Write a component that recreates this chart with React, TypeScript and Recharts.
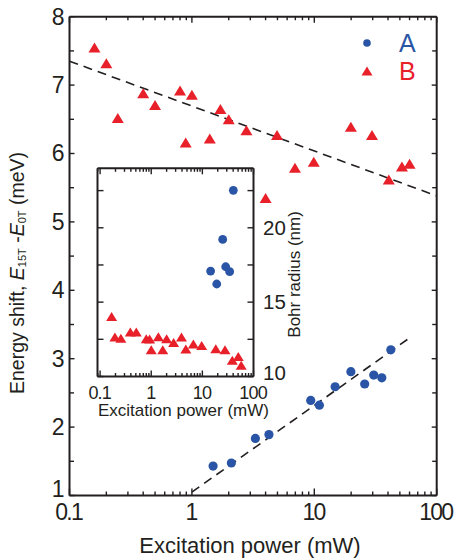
// App.tsx
// Energy shift vs excitation power (log x), with Bohr radius inset.

import * as React from "react";
import { ComposedChart, Scatter, Line, XAxis, YAxis, Legend } from "recharts";

const W = 455;
const H = 558;
const INK = "#231f20";
const BLUE = "#2a55a6";
const RED = "#e8202a";
const FONT = "'Liberation Sans', Arial, Helvetica, sans-serif";

// main panel: energy shift (meV) vs excitation power (mW)
const powerA = [1.49, 2.1, 3.3, 4.26, 9.35, 11.0, 14.8, 19.9, 25.8, 30.6, 35.6, 42.2];
const shiftA = [1.43, 1.475, 1.835, 1.89, 2.39, 2.32, 2.59, 2.81, 2.63, 2.76, 2.72, 3.13];
const powerB = [0.16, 0.2, 0.248, 0.4, 0.5, 0.8, 0.89, 1.0, 1.4, 1.71, 2.0, 2.79, 4.0, 4.96, 6.95, 9.9, 19.9, 29.6, 40.6, 52, 60];
const shiftB = [7.55, 7.32, 6.52, 6.88, 6.71, 6.92, 6.16, 6.86, 6.22, 6.65, 6.5, 6.34, 5.35, 6.27, 5.79, 5.88, 6.39, 6.27, 5.62, 5.81, 5.85];

// dashed fit lines (end points)
const fitAPower = [1, 63];
const fitAShift = [1.05, 3.33];
const fitBPower = [0.1, 100];
const fitBShift = [7.35, 5.38];

// inset: Bohr radius (nm) vs excitation power (mW)
const insetPowerA = [14.5, 19.1, 25, 28.6, 34.2, 40.3];
const radiusA = [17.09, 16.22, 19.22, 17.38, 17.05, 22.52];
const insetPowerB = [0.168, 0.195, 0.255, 0.39, 0.51, 0.8, 0.93, 1.0, 1.38, 1.68, 2.0, 2.74, 3.9, 4.75, 6.67, 9.7, 18.3, 27.7, 38.5, 50.4, 57.5];
const radiusB = [14.03, 12.65, 12.58, 12.99, 13.0, 12.54, 12.52, 11.8, 12.67, 11.8, 12.54, 12.29, 12.65, 11.85, 12.18, 12.09, 11.87, 11.8, 11.09, 11.35, 10.75];

// ticks
const xMajor = [0.1, 1, 10, 100];
const minorSteps = [2, 3, 4, 5, 6, 7, 8, 9];
const xTicks = xMajor
  .slice(0, -1)
  .flatMap((d) => [d, ...minorSteps.map((s) => +(d * s).toPrecision(3))])
  .concat([100]);
const insetXTicks = [0.09, ...xTicks];
const yMajor = [1, 2, 3, 4, 5, 6, 7, 8];
const yTicks = [1, 1.5, 2, 2.5, 3, 3.5, 4, 4.5, 5, 5.5, 6, 6.5, 7, 7.5, 8];
const insetYMajor = [10, 15, 20];
const insetYTicks = [10, 12.5, 15, 17.5, 20, 22.5];

const zip = (xs: number[], ys: number[]) => xs.map((x, i) => ({ x, y: ys[i] }));

const dataA = zip(powerA, shiftA);
const dataB = zip(powerB, shiftB);
const fitA = zip(fitAPower, fitAShift);
const fitB = zip(fitBPower, fitBShift);
const insetA = zip(insetPowerA, radiusA);
const insetB = zip(insetPowerB, radiusB);

const fmt = (v: number) => String(v);

type Side = "bottom" | "top" | "left" | "right";
interface ILabelOpts {
  size: number;
  gap: number;
  spacing?: number;
  lowShift?: number; // nudge for the lowest label so it clears the x labels
}

// custom tick: inward tick mark (longer for majors) + optional label
function makeTick(side: Side, major: number[], majorLen: number, minorLen: number, label?: ILabelOpts) {
  return (props: any) => {
    const { x, y, payload } = props;
    const v = payload.value;
    const isMajor = major.some((m) => Math.abs(m - v) < 1e-9);
    const len = isMajor ? majorLen : minorLen;
    const shift = label && v === major[0] ? label.lowShift || 0 : 0;
    let line: any;
    let text: any = null;
    if (side === "bottom") {
      line = <line x1={x} x2={x} y1={y} y2={y - len} />;
      if (label && isMajor)
        text = (
          <text x={x + (label.spacing || 0) / 2} y={y + label.gap} textAnchor="middle">
            {fmt(v)}
          </text>
        );
    } else if (side === "top") {
      line = <line x1={x} x2={x} y1={y} y2={y + len} />;
    } else if (side === "left") {
      line = <line x1={x} x2={x + len} y1={y} y2={y} />;
      if (label && isMajor)
        text = (
          <text x={x - label.gap} y={y + label.size * 0.34 + shift} textAnchor="end">
            {fmt(v)}
          </text>
        );
    } else {
      line = <line x1={x} x2={x - len} y1={y} y2={y} />;
      if (label && isMajor)
        text = (
          <text x={x + label.gap} y={y + label.size * 0.35 + shift} textAnchor="start">
            {fmt(v)}
          </text>
        );
    }
    return (
      <g>
        <g stroke={INK} strokeWidth={1.4}>{line}</g>
        {text && (
          <g fill={INK} fontSize={label!.size} fontFamily={FONT} letterSpacing={label!.spacing || 0}>
            {text}
          </g>
        )}
      </g>
    );
  };
}

const circleShape = (fill: string, r: number) => (p: any) =>
  <circle cx={p.cx} cy={p.cy} r={r} fill={fill} />;

const triangleShape = (fill: string, w: number, h: number) => (p: any) =>
  (
    <polygon
      points={`${p.cx},${p.cy - h / 2} ${p.cx - w / 2},${p.cy + h / 2} ${p.cx + w / 2},${p.cy + h / 2}`}
      fill={fill}
    />
  );

const frame = { stroke: INK, strokeWidth: 2 };

const LegendBox = (props: any) => {
  const items = (props.payload || []).filter((e: any) => e.type !== "none");
  return (
    <svg width={80} height={60}>
      {items.map((e: any, i: number) => {
        const cy = 15 + i * 28;
        return (
          <g key={e.value}>
            {e.type === "circle" ? (
              <circle cx={9} cy={cy} r={3.8} fill={e.color} />
            ) : (
              <polygon points={`9,${cy - 4.5} 3.5,${cy + 4.5} 14.5,${cy + 4.5}`} fill={e.color} />
            )}
            <text x={41} y={cy + 9} fill={e.color} fontSize={25} fontFamily={FONT}>
              {e.value}
            </text>
          </g>
        );
      })}
    </svg>
  );
};

const MainYTitle = () => {
  const cx = 17;
  const cy = 273;
  return (
    <text
      x={cx}
      y={cy}
      transform={`rotate(-90, ${cx}, ${cy})`}
      textAnchor="middle"
      dominantBaseline="central"
      fill={INK}
      fontSize={19.5}
      fontFamily={FONT}
    >
      Energy shift,{" "}
      <tspan fontStyle="italic">E</tspan>
      <tspan fontSize={11} dy={5}>15T</tspan>
      <tspan dy={-5}> -</tspan>
      <tspan fontStyle="italic">E</tspan>
      <tspan fontSize={11} dy={5}>0T</tspan>
      <tspan dy={-5}> (meV)</tspan>
    </text>
  );
};

const MainXTitle = () => (
  <text x={250} y={553} textAnchor="middle" fill={INK} fontSize={22} fontFamily={FONT}>
    Excitation power (mW)
  </text>
);

const InsetXTitle = (props: any) => {
  const vb = props.viewBox;
  return (
    <text
      x={vb.x + vb.width / 2 + 8}
      y={416}
      textAnchor="middle"
      fill={INK}
      fontSize={17}
      fontFamily={FONT}
    >
      Excitation power (mW)
    </text>
  );
};

const InsetYTitle = (props: any) => {
  const vb = props.viewBox;
  const cx = 295;
  const cy = vb.y + vb.height / 2 + 2;
  return (
    <text
      x={cx}
      y={cy}
      transform={`rotate(-90, ${cx}, ${cy})`}
      textAnchor="middle"
      dominantBaseline="central"
      fill={INK}
      fontSize={17}
      fontFamily={FONT}
    >
      Bohr radius (nm)
    </text>
  );
};

const MainChart: React.FC = () => (
  <ComposedChart width={W} height={H} margin={{ top: 15.7, right: 17.3, bottom: 61.5, left: 68.5 }}>
    <XAxis
      xAxisId="b"
      type="number"
      dataKey="x"
      scale="log"
      domain={[0.1, 100]}
      allowDataOverflow
      ticks={xTicks}
      interval={0}
      height={1}
      tickSize={0}
      tickMargin={0}
      tickLine={false}
      axisLine={frame}
      tick={makeTick("bottom", xMajor, 7, 4, { size: 23, gap: 24.5, spacing: -1.8 })}
      label={{ content: MainXTitle }}
    />
    <XAxis
      xAxisId="t"
      orientation="top"
      type="number"
      dataKey="x"
      scale="log"
      domain={[0.1, 100]}
      allowDataOverflow
      ticks={xTicks}
      interval={0}
      height={1}
      tickSize={0}
      tickMargin={0}
      tickLine={false}
      axisLine={frame}
      tick={makeTick("top", xMajor, 6, 3.5)}
    />
    <YAxis
      yAxisId="l"
      type="number"
      dataKey="y"
      domain={[1, 8]}
      allowDataOverflow
      ticks={yTicks}
      interval={0}
      width={1}
      tickSize={0}
      tickMargin={0}
      tickLine={false}
      axisLine={frame}
      tick={makeTick("left", yMajor, 5, 4.5, { size: 23, gap: 5, lowShift: -6.5 })}
      label={{ content: MainYTitle }}
    />
    <YAxis
      yAxisId="r"
      orientation="right"
      type="number"
      dataKey="y"
      domain={[1, 8]}
      allowDataOverflow
      ticks={yTicks}
      interval={0}
      width={1}
      tickSize={0}
      tickMargin={0}
      tickLine={false}
      axisLine={frame}
      tick={makeTick("right", yMajor, 5, 4.5)}
    />
    <Line
      xAxisId="b"
      yAxisId="l"
      data={fitB}
      dataKey="y"
      stroke={INK}
      strokeWidth={1.6}
      strokeDasharray="9 6"
      dot={false}
      legendType="none"
      isAnimationActive={false}
    />
    <Line
      xAxisId="b"
      yAxisId="l"
      data={fitA}
      dataKey="y"
      stroke={INK}
      strokeWidth={1.6}
      strokeDasharray="9 6"
      dot={false}
      legendType="none"
      isAnimationActive={false}
    />
    <Scatter
      name="A"
      xAxisId="b"
      yAxisId="l"
      data={dataA}
      fill={BLUE}
      legendType="circle"
      shape={circleShape(BLUE, 4.6)}
      isAnimationActive={false}
    />
    <Scatter
      name="B"
      xAxisId="b"
      yAxisId="l"
      data={dataB}
      fill={RED}
      legendType="triangle"
      shape={triangleShape(RED, 12, 10)}
      isAnimationActive={false}
    />
    <Legend
      layout="vertical"
      align="center"
      verticalAlign="middle"
      content={LegendBox}
      wrapperStyle={{ position: "absolute", left: 358, top: 28, width: 80, height: 60 }}
    />
  </ComposedChart>
);

const InsetChart: React.FC = () => (
  <ComposedChart width={W} height={H} margin={{ top: 167.3, right: 200.5, bottom: 180.5, left: 96.5 }}>
    <XAxis
      xAxisId="b"
      type="number"
      dataKey="x"
      scale="log"
      domain={[0.089, 100]}
      allowDataOverflow
      ticks={insetXTicks}
      interval={0}
      height={1}
      tickSize={0}
      tickMargin={0}
      tickLine={false}
      axisLine={frame}
      tick={makeTick("bottom", xMajor, 6, 3.5, { size: 18, gap: 22, spacing: -0.8 })}
      label={{ content: InsetXTitle }}
    />
    <XAxis
      xAxisId="t"
      orientation="top"
      type="number"
      dataKey="x"
      scale="log"
      domain={[0.089, 100]}
      allowDataOverflow
      ticks={insetXTicks}
      interval={0}
      height={1}
      tickSize={0}
      tickMargin={0}
      tickLine={false}
      axisLine={frame}
      tick={makeTick("top", xMajor, 6, 3.5)}
    />
    <YAxis
      yAxisId="l"
      type="number"
      dataKey="y"
      domain={[10, 24]}
      allowDataOverflow
      ticks={insetYTicks}
      interval={0}
      width={1}
      tickSize={0}
      tickMargin={0}
      tickLine={false}
      axisLine={frame}
      tick={makeTick("left", insetYMajor, 6, 6)}
    />
    <YAxis
      yAxisId="r"
      orientation="right"
      type="number"
      dataKey="y"
      domain={[10, 24]}
      allowDataOverflow
      ticks={insetYTicks}
      interval={0}
      width={1}
      tickSize={0}
      tickMargin={0}
      tickLine={false}
      axisLine={frame}
      tick={makeTick("right", insetYMajor, 6, 6, { size: 20.5, gap: 9.5, lowShift: -3.5 })}
      label={{ content: InsetYTitle }}
    />
    <Scatter
      name="A"
      xAxisId="b"
      yAxisId="l"
      data={insetA}
      fill={BLUE}
      shape={circleShape(BLUE, 4.4)}
      isAnimationActive={false}
    />
    <Scatter
      name="B"
      xAxisId="b"
      yAxisId="l"
      data={insetB}
      fill={RED}
      shape={triangleShape(RED, 11, 9)}
      isAnimationActive={false}
    />
  </ComposedChart>
);

export default function App() {
  return (
    <div style={{ position: "absolute", left: 0, top: 0, width: W, height: H, background: "#fff" }}>
      <div style={{ position: "absolute", left: 0, top: 0 }}>
        <MainChart />
      </div>
      <div style={{ position: "absolute", left: 0, top: 0 }}>
        <InsetChart />
      </div>
    </div>
  );
}
